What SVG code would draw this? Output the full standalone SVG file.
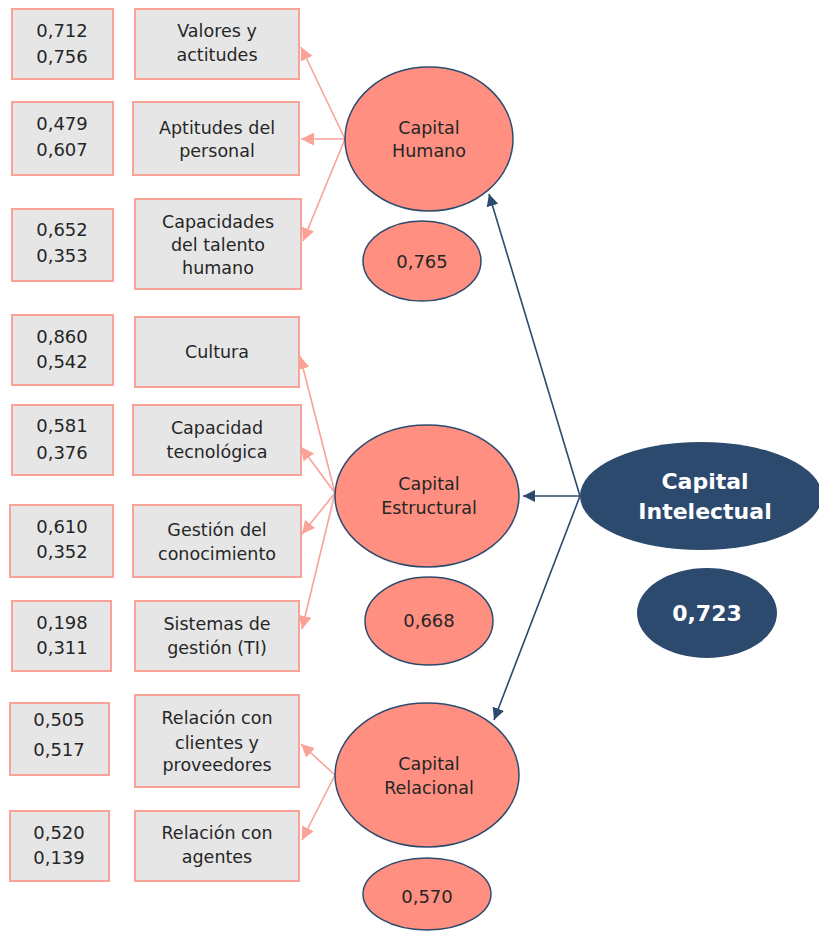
<svg xmlns="http://www.w3.org/2000/svg" width="819" height="936" viewBox="0 0 819 936">
<style>
.box{fill:#E6E6E6;stroke:#F9A297;stroke-width:2}
.t{font-family:"DejaVu Sans",sans-serif;font-size:17.5px;fill:#262626;text-anchor:middle}
.n{font-family:"DejaVu Sans",sans-serif;font-size:18px;fill:#262626;text-anchor:middle}
.pe{fill:#FF8F80;stroke:#2C4A6E;stroke-width:1.5}
.de{fill:#2C4A6E}
.w{font-family:"DejaVu Sans",sans-serif;font-weight:bold;font-size:22px;fill:#FFFFFF;text-anchor:middle}
.pl{stroke:#F9A297;stroke-width:1.6;fill:none}
.dl{stroke:#2C4A6E;stroke-width:1.6;fill:none}
</style>
<defs>
<marker id="ap" markerUnits="userSpaceOnUse" markerWidth="13" markerHeight="13" refX="10" refY="5" orient="auto" viewBox="0 0 10 10"><path d="M0,0 L10,5 L0,10 z" fill="#F9A297"/></marker>
<marker id="ad" markerUnits="userSpaceOnUse" markerWidth="12" markerHeight="12" refX="10" refY="5" orient="auto" viewBox="0 0 10 10"><path d="M0,0 L10,5 L0,10 z" fill="#2C4A6E"/></marker>
</defs>
<rect width="819" height="936" fill="#FFFFFF"/>
<g id="connectors">
<line class="pl" x1="345" y1="139" x2="301" y2="47" marker-end="url(#ap)"/>
<line class="pl" x1="345" y1="139" x2="301" y2="139" marker-end="url(#ap)"/>
<line class="pl" x1="345" y1="139" x2="303" y2="241" marker-end="url(#ap)"/>
<line class="pl" x1="335" y1="493" x2="300" y2="356" marker-end="url(#ap)"/>
<line class="pl" x1="335" y1="493" x2="301" y2="447" marker-end="url(#ap)"/>
<line class="pl" x1="335" y1="493" x2="302" y2="534" marker-end="url(#ap)"/>
<line class="pl" x1="335" y1="493" x2="302" y2="629" marker-end="url(#ap)"/>
<line class="pl" x1="335" y1="775" x2="301" y2="744" marker-end="url(#ap)"/>
<line class="pl" x1="335" y1="775" x2="302" y2="840" marker-end="url(#ap)"/>
<line class="dl" x1="580" y1="496" x2="489" y2="194" marker-end="url(#ad)"/>
<line class="dl" x1="580" y1="496" x2="523" y2="496" marker-end="url(#ad)"/>
<line class="dl" x1="580" y1="496" x2="494" y2="720" marker-end="url(#ad)"/>
</g>
<g id="n1"><rect class="box" x="12" y="9" width="101" height="70"/><text class="n" x="62" y="37">0,712</text><text class="n" x="62" y="63">0,756</text></g>
<g id="i1"><rect class="box" x="135" y="9" width="164" height="70"/><text class="t" x="217" y="37">Valores y</text><text class="t" x="217" y="61">actitudes</text></g>
<g id="n2"><rect class="box" x="12" y="102" width="101" height="73"/><text class="n" x="62" y="130">0,479</text><text class="n" x="62" y="156">0,607</text></g>
<g id="i2"><rect class="box" x="133" y="102" width="166" height="73"/><text class="t" x="217" y="134">Aptitudes del</text><text class="t" x="217" y="157">personal</text></g>
<g id="n3"><rect class="box" x="12" y="209" width="101" height="72"/><text class="n" x="62" y="236">0,652</text><text class="n" x="62" y="262">0,353</text></g>
<g id="i3"><rect class="box" x="135" y="199" width="166" height="90"/><text class="t" x="218" y="228">Capacidades</text><text class="t" x="218" y="251">del talento</text><text class="t" x="218" y="274">humano</text></g>
<g id="n4"><rect class="box" x="12" y="315" width="101" height="70"/><text class="n" x="62" y="343">0,860</text><text class="n" x="62" y="368">0,542</text></g>
<g id="i4"><rect class="box" x="135" y="317" width="164" height="70"/><text class="t" x="217" y="358">Cultura</text></g>
<g id="n5"><rect class="box" x="12" y="405" width="101" height="70"/><text class="n" x="62" y="432">0,581</text><text class="n" x="62" y="459">0,376</text></g>
<g id="i5"><rect class="box" x="133" y="405" width="168" height="70"/><text class="t" x="217" y="434">Capacidad</text><text class="t" x="217" y="458">tecnológica</text></g>
<g id="n6"><rect class="box" x="10" y="505" width="103" height="72"/><text class="n" x="62" y="533">0,610</text><text class="n" x="62" y="558">0,352</text></g>
<g id="i6"><rect class="box" x="133" y="505" width="168" height="72"/><text class="t" x="217" y="536">Gestión del</text><text class="t" x="217" y="560">conocimiento</text></g>
<g id="n7"><rect class="box" x="12" y="601" width="99" height="70"/><text class="n" x="62" y="629">0,198</text><text class="n" x="62" y="654">0,311</text></g>
<g id="i7"><rect class="box" x="135" y="601" width="164" height="70"/><text class="t" x="217" y="630">Sistemas de</text><text class="t" x="217" y="654">gestión (TI)</text></g>
<g id="n8"><rect class="box" x="10" y="703" width="99" height="72"/><text class="n" x="59" y="726">0,505</text><text class="n" x="59" y="756">0,517</text></g>
<g id="i8"><rect class="box" x="135" y="695" width="164" height="92"/><text class="t" x="217" y="724">Relación con</text><text class="t" x="217" y="749">clientes y</text><text class="t" x="217" y="771">proveedores</text></g>
<g id="n9"><rect class="box" x="10" y="811" width="99" height="70"/><text class="n" x="59" y="839">0,520</text><text class="n" x="59" y="864">0,139</text></g>
<g id="i9"><rect class="box" x="135" y="811" width="164" height="70"/><text class="t" x="217" y="839">Relación con</text><text class="t" x="217" y="863">agentes</text></g>
<g id="ch"><ellipse class="pe" cx="429" cy="139" rx="84" ry="72"/><text class="t" x="429" y="134">Capital</text><text class="t" x="429" y="157">Humano</text></g>
<g id="ch_v"><ellipse class="pe" cx="422" cy="261" rx="59" ry="40"/><text class="n" x="422" y="268">0,765</text></g>
<g id="ce"><ellipse class="pe" cx="427" cy="496" rx="92" ry="71"/><text class="t" x="429" y="490">Capital</text><text class="t" x="429" y="514">Estructural</text></g>
<g id="ce_v"><ellipse class="pe" cx="429" cy="621" rx="64" ry="44"/><text class="n" x="429" y="627">0,668</text></g>
<g id="cr"><ellipse class="pe" cx="427" cy="775" rx="92" ry="72"/><text class="t" x="429" y="770">Capital</text><text class="t" x="429" y="794">Relacional</text></g>
<g id="cr_v"><ellipse class="pe" cx="427" cy="894" rx="64" ry="36"/><text class="n" x="427" y="903">0,570</text></g>
<g id="ci"><ellipse class="de" cx="701" cy="496" rx="121" ry="54"/><text class="w" x="705" y="489">Capital</text><text class="w" x="705" y="519">Intelectual</text></g>
<g id="ci_v"><ellipse class="de" cx="707" cy="613" rx="70" ry="45"/><text class="w" x="707" y="621">0,723</text></g>
</svg>
